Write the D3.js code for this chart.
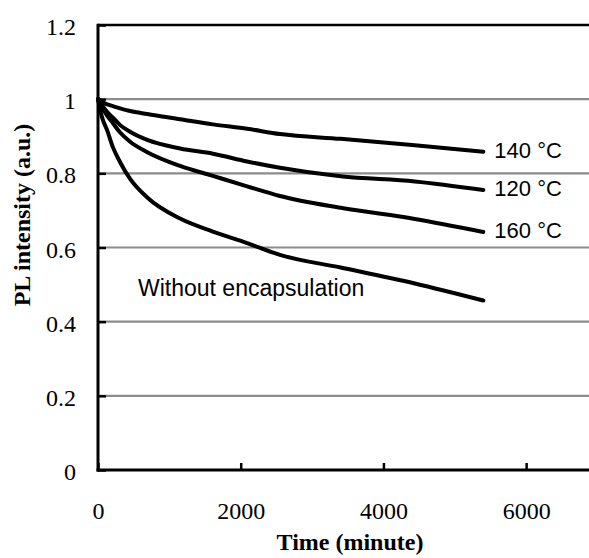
<!DOCTYPE html>
<html>
<head>
<meta charset="utf-8">
<script src="https://cdn.jsdelivr.net/npm/d3@7"></script>
<style>
  body { margin: 0; background: #fff; }
</style>
</head>
<body>
<svg id="chart"></svg>
<script>
// time in minutes, normalised PL intensity
var times = [0, 50, 130, 210, 310, 450, 690, 1150, 1610, 2090, 2550, 3400, 4440, 5400]
var pl140 = [1.0, 0.993, 0.986, 0.981, 0.975, 0.968, 0.96, 0.946, 0.932, 0.92, 0.906, 0.893, 0.876, 0.858]
var pl120 = [1.0, 0.985, 0.965, 0.95, 0.93, 0.912, 0.89, 0.867, 0.853, 0.832, 0.815, 0.792, 0.778, 0.755]
var pl160 = [1.0, 0.98, 0.955, 0.935, 0.91, 0.885, 0.857, 0.82, 0.793, 0.765, 0.739, 0.707, 0.677, 0.642]
var plBare = [1.0, 0.955, 0.915, 0.87, 0.83, 0.785, 0.735, 0.678, 0.643, 0.612, 0.58, 0.546, 0.503, 0.457]
var seriesNames = ['140 \u00b0C', '120 \u00b0C', '160 \u00b0C', 'Without encapsulation']
var xTicks = [0, 2000, 4000, 6000]
var yTicks = [0, 0.2, 0.4, 0.6, 0.8, 1, 1.2]

var width = 589, height = 558
var svg = d3.select('#chart').attr('width', width).attr('height', height)

var x = d3.scaleLinear().domain([0, 7000]).range([98, 597.5])
var y = d3.scaleLinear().domain([0, 1.2]).range([470, 25])

// grid lines
svg.append('g').selectAll('line')
    .data(yTicks.filter(d => d > 0 && d < 1.2))
    .enter().append('line')
    .attr('x1', x(0)).attr('x2', width)
    .attr('y1', d => y(d)).attr('y2', d => y(d))
    .attr('stroke', '#8c8c8c').attr('stroke-width', 2.2)

// top border
svg.append('line')
    .attr('x1', x(0)).attr('x2', width)
    .attr('y1', y(1.2)).attr('y2', y(1.2))
    .attr('stroke', '#000').attr('stroke-width', 2.5)

var yAxis = svg.append('g')
    .attr('transform', 'translate(' + x(0) + ',0)')
    .call(d3.axisLeft(y).tickValues(yTicks).tickSize(-8).tickPadding(22)
        .tickFormat(d => d3.format('')(+d.toFixed(1))))
var xAxis = svg.append('g')
    .attr('transform', 'translate(0,' + y(0) + ')')
    .call(d3.axisBottom(x).tickValues(xTicks).tickSize(-7).tickPadding(32)
        .tickFormat(d3.format('d')))

;[yAxis, xAxis].forEach(function(g){
    g.select('.domain').remove()
    g.selectAll('.tick line').attr('stroke', '#000').attr('stroke-width', 2.5)
    g.selectAll('.tick text')
        .attr('fill', '#000')
        .style('font-family', '"Liberation Serif", "Times New Roman", serif')
        .style('font-size', '24px')
})
yAxis.selectAll('.tick text').attr('dy', '0.4em')

// axis lines
svg.append('line')
    .attr('x1', x(0)).attr('x2', x(0)).attr('y1', y(1.2) - 1.2).attr('y2', y(0) + 1.5)
    .attr('stroke', '#000').attr('stroke-width', 3)
svg.append('line')
    .attr('x1', x(0) - 1.5).attr('x2', width).attr('y1', y(0)).attr('y2', y(0))
    .attr('stroke', '#000').attr('stroke-width', 3)

// curves
var line = d3.line()
    .x((d, i) => x(times[i]))
    .y(d => y(d))
    .curve(d3.curveMonotoneX)

var series = [pl140, pl120, pl160, plBare]
svg.append('g').selectAll('path')
    .data(series)
    .enter().append('path')
    .attr('d', line)
    .attr('fill', 'none')
    .attr('stroke', '#000')
    .attr('stroke-width', 4)
    .attr('stroke-linecap', 'round')
    .attr('stroke-linejoin', 'round')

// curve labels
var labelFont = '"Liberation Sans", Arial, sans-serif'
series.slice(0, 3).forEach(function(s, i){
    svg.append('text')
        .attr('x', x(times[times.length - 1]) + 11)
        .attr('y', y(s[s.length - 1]) + 6)
        .attr('fill', '#000')
        .style('font-family', labelFont)
        .style('font-size', '22px')
        .text(seriesNames[i])
})
svg.append('text')
    .attr('x', 138)
    .attr('y', 296)
    .attr('fill', '#000')
    .style('font-family', labelFont)
    .style('font-size', '23px')
    .text(seriesNames[3])

// axis titles
svg.append('text')
    .attr('x', 350).attr('y', 550)
    .attr('text-anchor', 'middle')
    .style('font-family', '"Liberation Serif", "Times New Roman", serif')
    .style('font-size', '24px').style('font-weight', 'bold')
    .text('Time (minute)')
svg.append('text')
    .attr('transform', 'translate(30,215) rotate(-90)')
    .attr('text-anchor', 'middle')
    .style('font-family', '"Liberation Serif", "Times New Roman", serif')
    .style('font-size', '24px').style('font-weight', 'bold')
    .text('PL intensity (a.u.)')
</script>
</body>
</html>
